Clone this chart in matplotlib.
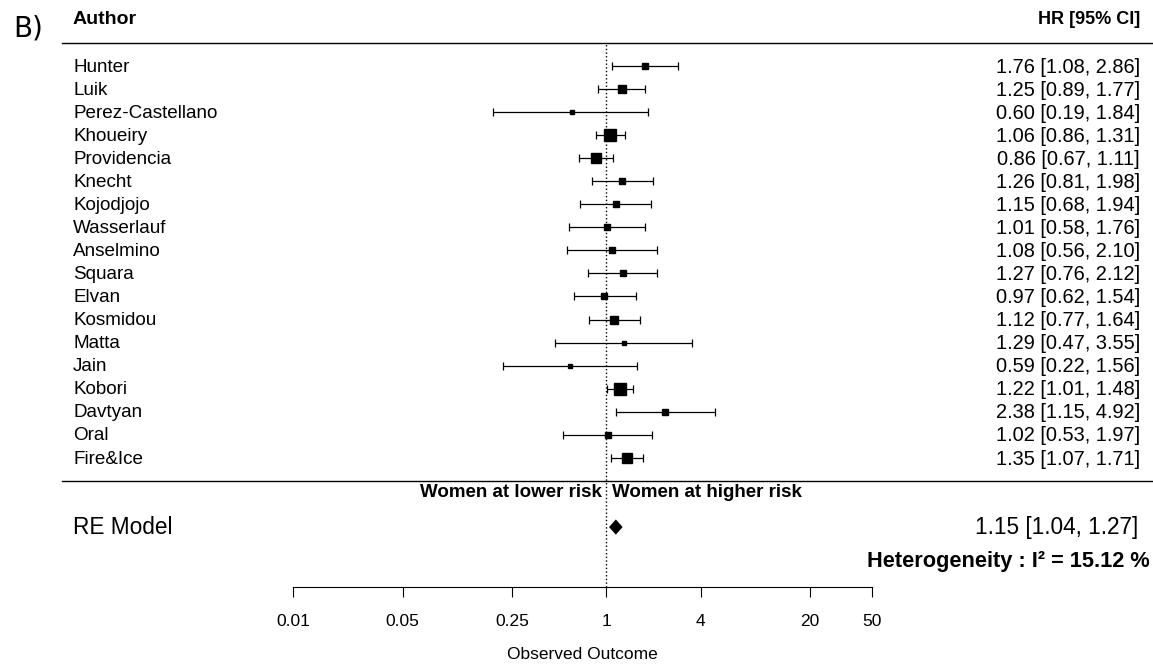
import matplotlib
matplotlib.use('Agg')
import matplotlib.pyplot as plt
import matplotlib.transforms as mtransforms
from matplotlib.ticker import NullLocator
import numpy as np

plt.rcParams['font.family'] = ['Liberation Sans', 'DejaVu Sans']

# study data (HR and 95% CI)
authors = ['Hunter', 'Luik', 'Perez-Castellano', 'Khoueiry', 'Providencia', 'Knecht',
           'Kojodjojo', 'Wasserlauf', 'Anselmino', 'Squara', 'Elvan', 'Kosmidou',
           'Matta', 'Jain', 'Kobori', 'Davtyan', 'Oral', 'Fire&Ice']
hr = [1.76, 1.25, 0.60, 1.06, 0.86, 1.26, 1.15, 1.01, 1.08, 1.27, 0.97, 1.12,
      1.29, 0.59, 1.22, 2.38, 1.02, 1.35]
lower = [1.08, 0.89, 0.19, 0.86, 0.67, 0.81, 0.68, 0.58, 0.56, 0.76, 0.62, 0.77,
         0.47, 0.22, 1.01, 1.15, 0.53, 1.07]
upper = [2.86, 1.77, 1.84, 1.31, 1.11, 1.98, 1.94, 1.76, 2.10, 2.12, 1.54, 1.64,
         3.55, 1.56, 1.48, 4.92, 1.97, 1.71]

# random effects summary
re_hr, re_lo, re_hi = 1.15, 1.04, 1.27
i2 = 15.12

ticks = [0.01, 0.05, 0.25, 1, 4, 20, 50]

k = len(authors)
rows = np.arange(k, 0, -1)

fig = plt.figure(figsize=(11.53, 6.66), dpi=100)
ax = fig.add_axes([293.3 / 1153, 79 / 666, 579 / 1153, 587 / 666])
ax.set_xscale('log')
ax.set_xlim(0.01, 50)
ax.set_ylim(-4.6, 20.86)

# square size from inverse standard error, like metafor
se = (np.log(upper) - np.log(lower)) / 3.92
w = 1 / se
psize = (w - w.min()) / (w.max() - w.min()) + 0.5

for y, est, lo, hi, ps in zip(rows, hr, lower, upper, psize):
    ax.errorbar(est, y, xerr=[[est - lo], [hi - est]], fmt='none', ecolor='black',
                elinewidth=0.9, capsize=2.9, capthick=0.9)
    ax.plot(est, y, marker='s', color='black', markersize=8.6 * ps * 0.72, linestyle='none')

# summary diamond
h = 0.33
ax.fill([re_lo, re_hr, re_hi, re_hr], [-2, -2 + h, -2, -2 - h], color='black', lw=0)

# reference line and separators
ax.plot([1, 1], [-4.6, k + 1], linestyle=':', color='black', lw=1)
for yl in [k + 1, 0]:
    ax.axhline(yl, xmin=-0.4, xmax=1.485, color='black', lw=1, clip_on=False)

# axis styling
for s in ['top', 'left', 'right']:
    ax.spines[s].set_visible(False)
ax.spines['bottom'].set_linewidth(0.8)
ax.set_yticks([])
ax.set_xticks(ticks)
ax.set_xticklabels([f'{t:g}' for t in ticks])
ax.xaxis.set_minor_locator(NullLocator())
ax.tick_params(axis='x', length=7.2, width=0.8, pad=12, labelsize=12.5)
ax.set_xlabel('Observed Outcome', fontsize=12.5, labelpad=13)

trans = mtransforms.blended_transform_factory(fig.transFigure, ax.transData)
xl = 73 / 1153
xr = 1140 / 1153

ax.text(xl, 20, 'Author', transform=trans, fontsize=14, fontweight='bold', va='center')
ax.text(xr, 20, 'HR [95% CI]', transform=trans, fontsize=13, fontweight='bold',
        va='center', ha='right')
for y, name, est, lo, hi in zip(rows, authors, hr, lower, upper):
    ax.text(xl, y - 0.05, name, transform=trans, fontsize=13.6, va='center')
    ax.text(xr, y - 0.05, f'{est:.2f} [{lo:.2f}, {hi:.2f}]', transform=trans, fontsize=14.4,
            va='center', ha='right')

ax.text(0.93, -0.5, 'Women at lower risk', fontsize=13.5, fontweight='bold',
        va='center', ha='right')
ax.text(1.08, -0.5, 'Women at higher risk', fontsize=13.5, fontweight='bold',
        va='center', ha='left')

ax.text(xl, -2, 'RE Model', transform=trans, fontsize=16.3, va='center')
ax.text(1138 / 1153, -2, f'{re_hr:.2f} [{re_lo:.2f}, {re_hi:.2f}]', transform=trans,
        fontsize=16.3, va='center', ha='right')
ax.text(1150 / 1153, -3.5, f'Heterogeneity : I² = {i2:.2f} %', transform=trans,
        fontsize=15.7, fontweight='bold', va='center', ha='right')

fig.text(13 / 1153, 1 - 28 / 666, 'B)', fontsize=20, family=['DejaVu Sans'],
         va='center', ha='left')

fig.savefig('out.png', dpi=100)
